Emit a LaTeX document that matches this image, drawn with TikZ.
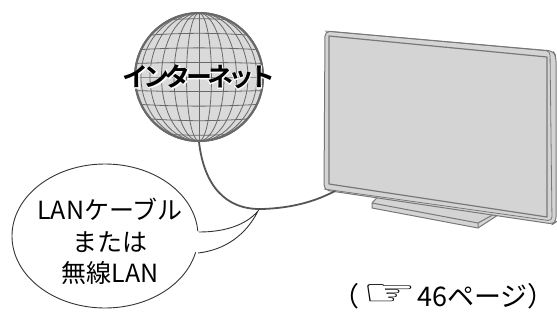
\documentclass[tikz,border=0pt]{standalone}
\usepackage{fontspec}
\setmainfont{Noto Sans CJK JP}
\newfontfamily\symfont{DejaVu Sans}
\newfontfamily\netfont[LetterSpace=-19]{Noto Sans CJK JP Bold}
\newfontfamily\halofont[LetterSpace=-19,FakeBold=6]{Noto Sans CJK JP Bold}
\usepackage{tikz}
\usetikzlibrary{positioning,shapes.geometric,calc}
\definecolor{globefill}{RGB}{218,218,218}
\definecolor{gridclr}{RGB}{105,105,105}
\definecolor{tvfill}{RGB}{212,212,212}
\definecolor{tvline}{RGB}{120,120,120}
\definecolor{cableclr}{RGB}{85,85,85}
\tikzset{
    globe/.style={circle,draw=gridclr,line width=2pt,fill=globefill,minimum size=128pt,inner sep=0pt},
    grid/.style={draw=gridclr,line width=0.8pt},
    bubble/.style={ellipse,draw=black!80,line width=0.9pt,fill=white,minimum width=186pt,minimum height=144pt,inner sep=0pt},
    tvpart/.style={draw=tvline,line width=1pt,fill=tvfill,line join=round},
    cable/.style={draw=cableclr,line width=1.8pt},
}

\begin{document}
\begin{tikzpicture}[x=1pt,y=-1pt,every node/.style={font=\fontsize{25}{30}\selectfont}]
\useasboundingbox (0,0) rectangle (557,327);

% internet globe
\node[globe] (globe) at (199,77) {};
\begin{scope}
  \clip (globe.center) circle[radius=63pt];
  \draw[grid] (199,13) -- (199,141);
  \foreach \rx in {12.5,25,37.5,49,58}
    \draw[grid] (globe.center) ellipse[x radius=\rx pt,y radius=64pt];
  \foreach \dy in {-52,-39,-26,-13,0,13,26,39,52}
    \draw[grid] (120,77+\dy) parabola bend (199,77+1.12*\dy) (278,77+\dy);
\end{scope}
\draw[gridclr,line width=2pt] (globe.center) circle[radius=64pt];
% white rim under the label
\node[white,font=\fontsize{26}{28}\selectfont\halofont] (halo) at (globe.center) {インターネット};
\node[black,font=\fontsize{26}{28}\selectfont\netfont] (net) at (globe.center) {インターネット};

% stand behind the tv
\coordinate (standL) at (372,203);
\coordinate (standF) at (478,223);
\coordinate (standR) at (498,212);
\draw[tvpart] (386,188) -- (standL) -- ++(0,5) -- ($(standF)+(0,5)$) -- ($(standR)+(0,3)$) -- (498,200) -- cycle;
\draw[tvline,line width=1pt] (standL) -- (standF) -- ++(0,5) (standF) -- (standR);

% tv
\draw[tvpart,rounded corners=5pt] (325,31) -- (553,51) -- (556,56) -- (556,222) -- (553,224) -- (324,190) -- cycle;
\draw[tvline,line width=0.8pt,rounded corners=4pt] (325,31) -- (550,51) -- (552,221) -- (324,189);
\draw[tvpart,line width=1.2pt] (329,36) -- (547,57) -- (547,217) -- (329,184) -- cycle;

% cable from the globe to the tv
\coordinate (plug) at (335,191);
\draw[cable] (globe.south) .. controls (204,185) and (225,210) .. (262,209)
             .. controls (295,208) and (318,200) .. (plug);

% speech bubble
\node[bubble,align=center] (bubble) at (105,236) {};
\coordinate (tip) at (258,211);
\fill[white] (190,228) -- (199,232) .. controls (225,232) and (246,225) .. (tip)
             .. controls (246,235) and (225,250) .. (198,253) -- (190,250) -- cycle;
\draw[black!80,line width=0.9pt] (199,232) .. controls (225,232) and (246,225) .. (tip)
             .. controls (246,235) and (225,250) .. (198,253);
\node (l1) at (110,209) {LANケーブル};
\node (l2) at (110,242) {または};
\node (l3) at (110,273) {無線LAN};

% page reference
\node[font=\fontsize{27}{30}\selectfont,inner sep=0pt,anchor=east] (ref) at (555,296)
  {（\hspace{3pt}\raisebox{1pt}{\scalebox{1.9}[1.15]{\symfont\fontsize{32}{32}\selectfont ☞}}46ページ）};
\end{tikzpicture}
\end{document}
